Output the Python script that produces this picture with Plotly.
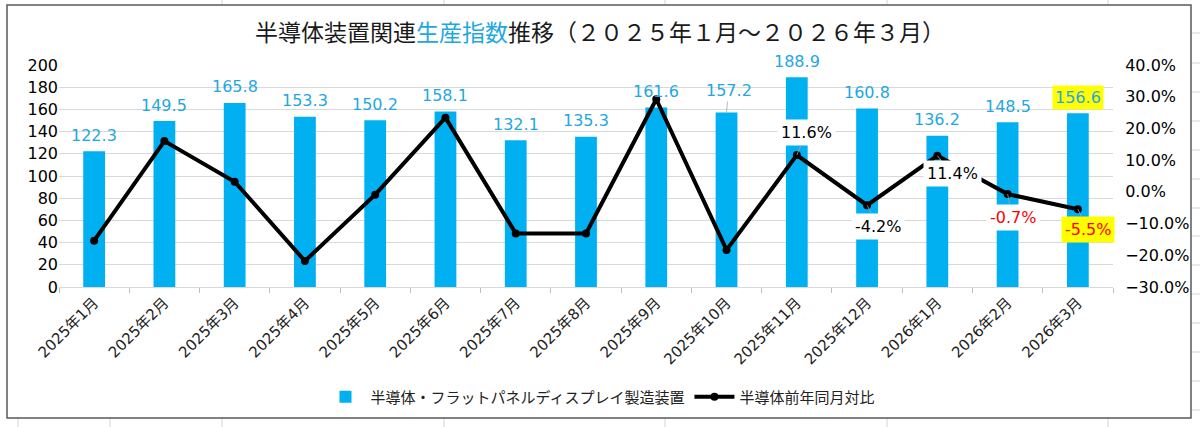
import plotly.graph_objects as go

months = ["2025年1月", "2025年2月", "2025年3月", "2025年4月", "2025年5月",
          "2025年6月", "2025年7月", "2025年8月", "2025年9月", "2025年10月",
          "2025年11月", "2025年12月", "2026年1月", "2026年2月", "2026年3月"]
index_values = [122.3, 149.5, 165.8, 153.3, 150.2, 158.1, 132.1, 135.3,
                161.6, 157.2, 188.9, 160.8, 136.2, 148.5, 156.6]
yoy_pct = [-15.4, 16.0, 3.2, -21.8, -0.9, 23.4, -13.1, -13.1,
           29.2, -18.3, 11.6, -4.2, 11.4, -0.7, -5.5]
# months whose year-on-year value gets a data label
yoy_labeled = [10, 11, 12, 13, 14]

BAR_COLOR = "#00B0F0"
LABEL_BLUE = "#1FA8E0"
FONT_NUM = "DejaVu Sans, sans-serif"
FONT_MIX = "DejaVu Sans, Noto Sans CJK JP, sans-serif"
FONT_JP = "Noto Sans CJK JP, sans-serif"

W, H = 1200, 427
# plot area in page pixels
PX0, PX1, PY0, PY1 = 59, 1113, 65, 287


def px(xp):
    return (xp - PX0) / (PX1 - PX0)


def py(yp):
    return (PY1 - yp) / (PY1 - PY0)


x = list(range(len(months)))

fig = go.Figure()
fig.add_trace(go.Bar(
    x=x, y=index_values, name="半導体・フラットパネルディスプレイ製造装置",
    marker=dict(color=BAR_COLOR, line=dict(width=0)), width=0.31,
))
fig.add_trace(go.Scatter(
    x=x, y=yoy_pct, name="半導体前年同月対比", yaxis="y2",
    mode="lines+markers", line=dict(color="black", width=4),
    marker=dict(color="black", size=8),
))

annotations = []
# bar data labels
for i, v in enumerate(index_values):
    a = dict(x=i, y=v, xref="x", yref="y", text=f"{v:.1f}",
             font=dict(family=FONT_NUM, size=16, color=LABEL_BLUE),
             showarrow=False, yshift=16)
    if i == 9:
        a.update(showarrow=True, arrowhead=0, arrowwidth=0.8, arrowcolor="#A6A6A6",
                 ax=2, ay=-22, yshift=0)
    if i == len(index_values) - 1:
        a.update(bgcolor="#FFFF00", borderpad=2)
    annotations.append(a)

# line data labels: (dx, dy) offsets in px from the point
offsets = {10: (10, -23), 11: (11, 21), 12: (15, 18), 13: (5, 23), 14: (10, 20)}
for i in yoy_labeled:
    v = yoy_pct[i]
    dx, dy = offsets[i]
    color = "red" if i >= 13 else "black"
    bg = "#FFFF00" if i == 14 else "white"
    annotations.append(dict(
        x=i, y=v, xref="x", yref="y2", text=f"{v:.1f}%",
        font=dict(family=FONT_NUM, size=16, color=color),
        showarrow=True, arrowhead=0, arrowwidth=0.8, arrowcolor="#A6A6A6",
        ax=dx, ay=dy, bgcolor=bg, borderpad=3,
    ))

# spreadsheet cell grid behind the chart object
grid = dict(color="#D4D4D4", width=1)
shapes = []
for gx in [222, 444, 665, 887, 1108]:
    shapes.append(dict(type="line", xref="paper", yref="paper",
                       x0=px(gx), x1=px(gx), y0=py(0), y1=py(5),
                       line=grid, layer="below"))
for gy in [33, 63, 92, 121, 150, 179, 208, 236, 265, 294, 323, 352, 381, 410]:
    shapes.append(dict(type="line", xref="paper", yref="paper",
                       x0=px(1191), x1=px(1200), y0=py(gy), y1=py(gy),
                       line=grid, layer="below"))
for gx in [18, 110, 222, 444, 665, 887, 1108]:
    shapes.append(dict(type="line", xref="paper", yref="paper",
                       x0=px(gx), x1=px(gx), y0=py(418), y1=py(427),
                       line=grid, layer="below"))
shapes.append(dict(type="rect", xref="paper", yref="paper",
                   x0=px(7), x1=px(1191), y0=py(418), y1=py(5),
                   line=dict(color="#595959", width=1.5), fillcolor="rgba(0,0,0,0)"))

fig.update_layout(
    width=W, height=H,
    margin=dict(l=PX0, r=W - PX1, t=PY0, b=H - PY1, autoexpand=False),
    paper_bgcolor="white", plot_bgcolor="white",
    title=dict(
        text="半導体装置関連<span style='color:#1FA8E0'>生産指数</span>推移（２０２５年１月～２０２６年３月）",
        x=px(600), xref="paper", xanchor="center",
        y=1 - 33 / H, yanchor="middle",
        font=dict(family=FONT_JP, size=23, color="#1a1a1a"),
    ),
    xaxis=dict(
        range=[-0.5, len(months) - 0.5],
        tickvals=x, ticktext=months, tickangle=-45,
        tickfont=dict(family=FONT_MIX, size=15, color="#222222"),
        ticks="", showgrid=False, zeroline=False,
        showline=True, linecolor="#D9D9D9", linewidth=1,
        minor=dict(tick0=0.5, dtick=1, ticks="outside", ticklen=5,
                   tickcolor="#BFBFBF", showgrid=False),
    ),
    yaxis=dict(
        range=[0, 200], dtick=20,
        tickfont=dict(family=FONT_NUM, size=16, color="black"),
        showgrid=True, gridcolor="#D9D9D9", gridwidth=1,
        zeroline=False, ticks="",
    ),
    yaxis2=dict(
        range=[-30, 40], dtick=10, overlaying="y", side="right",
        tickformat=".1f", ticksuffix="%",
        tickfont=dict(family=FONT_NUM, size=16, color="black"),
        showgrid=False, zeroline=False, ticks="outside", ticklen=8,
        tickcolor="rgba(0,0,0,0)",
    ),
    legend=dict(
        orientation="h", x=px(600), xanchor="center",
        y=py(397), yanchor="middle",
        font=dict(family=FONT_JP, size=15, color="#222222"),
        itemwidth=40,
    ),
    annotations=annotations,
    shapes=shapes,
)

# drop the default body margin so the figure fills the window exactly
fig.write_html("out.html", config={"displayModeBar": False},
               post_script="document.body.style.margin='0';")
